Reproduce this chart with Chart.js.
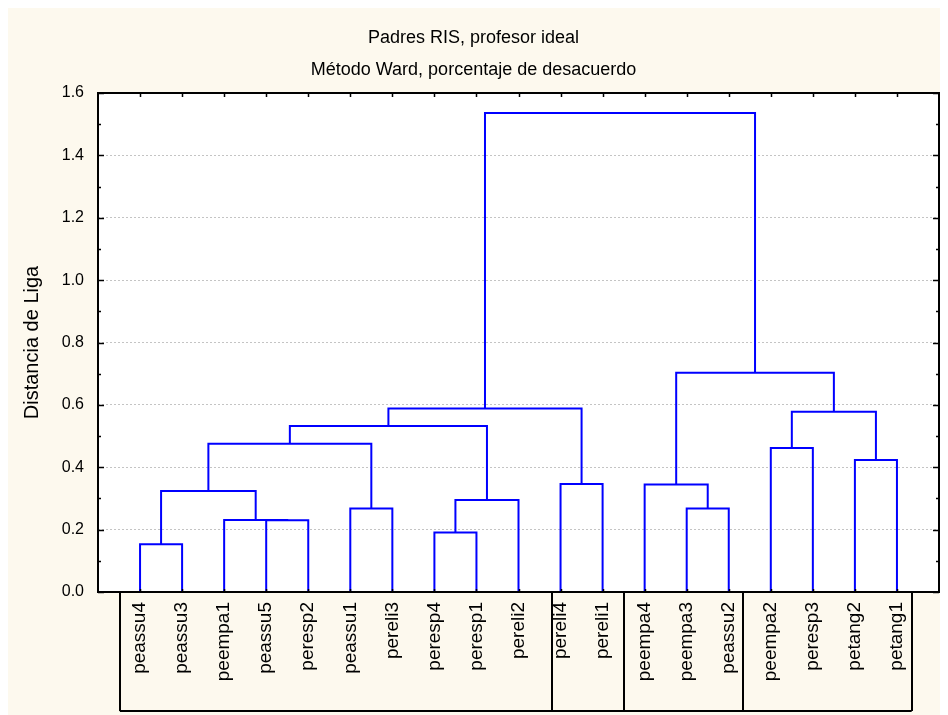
<!DOCTYPE html>
<html>
<head>
<meta charset="utf-8">
<script src="https://cdn.jsdelivr.net/npm/chart.js@4.4.1/dist/chart.umd.min.js"></script>
<style>
  body { margin: 8px; background: #ffffff; }
  #chart { background: #fdf9ee; display: block; }
</style>
</head>
<body>
<canvas id="chart" width="940" height="707"></canvas>
<script>
// leaf order along the bottom axis
const leaves = ['peassu4', 'peassu3', 'peempa1', 'peassu5', 'peresp2', 'peassu1', 'pereli3',
    'peresp4', 'peresp1', 'pereli2', 'pereli4', 'pereli1', 'peempa4', 'peempa3', 'peassu2',
    'peempa2', 'peresp3', 'petang2', 'petang1'];

// merges: [left node, right node, linkage distance]; node ids 0..18 are leaves, 19.. are clusters
const merges = [
    [0, 1, 0.153],    // 19
    [3, 4, 0.230],    // 20
    [2, 20, 0.231],   // 21
    [7, 8, 0.191],    // 22
    [5, 6, 0.268],    // 23
    [13, 14, 0.268],  // 24
    [22, 9, 0.295],   // 25
    [19, 21, 0.324],  // 26
    [10, 11, 0.346],  // 27
    [12, 24, 0.345],  // 28
    [17, 18, 0.423],  // 29
    [15, 16, 0.462],  // 30
    [26, 23, 0.475],  // 31
    [31, 25, 0.532],  // 32
    [30, 29, 0.578],  // 33
    [32, 27, 0.588],  // 34
    [28, 33, 0.703],  // 35
    [34, 35, 1.536]   // 36
];

// boxes drawn under the leaf labels (edges in leaf units)
const groupEdges = [0.52, 10.80, 12.52, 15.35, 19.35];

const yTicks = [0, 0.2, 0.4, 0.6, 0.8, 1.0, 1.2, 1.4, 1.6];

// node positions: leaves sit at 1..n, clusters at the middle of their children
const nodeX = leaves.map((name, i) => i + 1);
const nodeY = leaves.map(() => 0);
const datasets = [];
merges.forEach(([a, b, h]) => {
    datasets.push({
        data: [
            { x: nodeX[a], y: nodeY[a] },
            { x: nodeX[a], y: h },
            { x: nodeX[b], y: h },
            { x: nodeX[b], y: nodeY[b] }
        ],
        showLine: true,
        borderColor: '#0000ff',
        borderWidth: 2,
        pointRadius: 0,
        tension: 0,
        fill: false
    });
    nodeX.push((nodeX[a] + nodeX[b]) / 2);
    nodeY.push(h);
});

const framePlugin = {
    id: 'frame',
    beforeDraw(chart) {
        const { ctx, chartArea: a } = chart;
        ctx.save();
        ctx.fillStyle = '#ffffff';
        ctx.fillRect(a.left, a.top, a.right - a.left, a.bottom - a.top);
        ctx.restore();
    },
    afterDraw(chart) {
        const { ctx, chartArea: a, scales } = chart;
        const xs = scales.x, ys = scales.y;
        ctx.save();
        ctx.strokeStyle = '#000000';
        ctx.lineWidth = 2;
        ctx.strokeRect(a.left, a.top, a.right - a.left, a.bottom - a.top);

        // inward ticks, major and minor, on left and right
        ctx.lineWidth = 1.5;
        ctx.beginPath();
        for (let v = 0; v <= 16; v++) {
            const y = Math.round(ys.getPixelForValue(v / 10)) + 0.5;
            const len = v % 2 === 0 ? 6 : 3;
            ctx.moveTo(a.left, y); ctx.lineTo(a.left + len, y);
            ctx.moveTo(a.right, y); ctx.lineTo(a.right - len, y);
        }
        // top and bottom ticks at each leaf
        leaves.forEach((name, i) => {
            const x = Math.round(xs.getPixelForValue(i + 1)) + 0.5;
            ctx.moveTo(x, a.top); ctx.lineTo(x, a.top + 4);
            ctx.moveTo(x, a.bottom); ctx.lineTo(x, a.bottom - 3);
        });
        ctx.stroke();

        // label boxes
        const boxBottom = a.bottom + 119;
        ctx.lineWidth = 2;
        ctx.beginPath();
        const x0 = xs.getPixelForValue(groupEdges[0]);
        const x1 = xs.getPixelForValue(groupEdges[groupEdges.length - 1]);
        ctx.moveTo(x0, a.bottom); ctx.lineTo(x1, a.bottom);
        ctx.moveTo(x0, boxBottom); ctx.lineTo(x1, boxBottom);
        groupEdges.forEach(e => {
            const x = Math.round(xs.getPixelForValue(e));
            ctx.moveTo(x, a.bottom); ctx.lineTo(x, boxBottom);
        });
        ctx.stroke();
        ctx.restore();
    }
};

Chart.defaults.color = '#000000';
Chart.defaults.font.family = "'Liberation Sans', Arial, sans-serif";

new Chart(document.getElementById('chart'), {
    type: 'scatter',
    data: { datasets: datasets },
    options: {
        responsive: false,
        animation: false,
        devicePixelRatio: 1,
        layout: { padding: { top: 0, right: 9, bottom: 0, left: 0 } },
        plugins: {
            legend: { display: false },
            tooltip: { enabled: false },
            title: {
                display: true,
                text: ['Padres RIS, profesor ideal', 'Método Ward, porcentaje de desacuerdo'],
                color: '#000000',
                font: { size: 18, weight: 'normal', lineHeight: '32px' },
                padding: { top: 14, bottom: 7 }
            }
        },
        scales: {
            x: {
                type: 'linear',
                min: 0,
                max: leaves.length + 1,
                afterFit(scale) { scale.height = 123; },
                afterBuildTicks(scale) {
                    scale.ticks = leaves.map((name, i) => ({ value: i + 1 }));
                },
                ticks: {
                    autoSkip: false,
                    maxRotation: 90,
                    minRotation: 90,
                    padding: 10,
                    font: { size: 19 },
                    callback: (v) => leaves[v - 1] || ''
                },
                grid: { display: false, drawTicks: false },
                border: { display: false }
            },
            y: {
                min: 0,
                max: 1.6,
                afterFit(scale) { scale.width = 90; },
                afterBuildTicks(scale) {
                    scale.ticks = yTicks.map(v => ({ value: v }));
                },
                ticks: {
                    padding: 14,
                    font: { size: 16 },
                    callback: (v) => Number(v).toFixed(1)
                },
                grid: { color: '#c4c4c4', lineWidth: 1, drawTicks: false },
                border: { display: false, dash: [2, 2] },
                title: {
                    display: true,
                    text: 'Distancia de Liga',
                    font: { size: 20 },
                    padding: { top: 12, bottom: 4 }
                }
            }
        }
    },
    plugins: [framePlugin]
});
</script>
</body>
</html>
